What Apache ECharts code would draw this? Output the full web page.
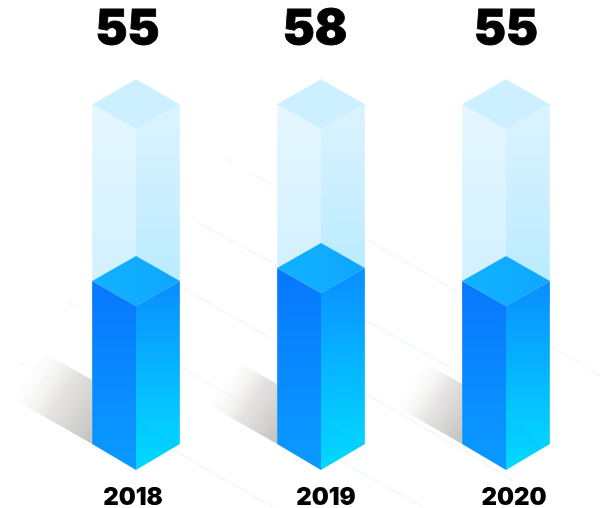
<!DOCTYPE html>
<html><head><meta charset="utf-8">
<style>html,body{margin:0;padding:0;background:#fff}#c{width:600px;height:508px}</style>
<script src="https://cdn.jsdelivr.net/npm/echarts@6/dist/echarts.min.js"></script></head>
<body><div id="c"></div>
<script>
const categories = ['2018', '2019', '2020'];
const values = [55, 58, 55];
const trackValues = [95.8, 95.8, 95.8];
const labelShift = [-8.5, -6, 0];
const yearPad = [[0, 6, 0, 0], [0, 0, 0, 10], [0, 0, 0, 16]];
const shadowTop = [45, 34, 34];
const shadowBottom = [85, 72, 69];
const shadowRise = [64, 60, 60];
const decorLines = [
  [198,223,277,265],[182,288,277,342],[67,302,76,307],[18,362,28,367],[43,375,93,403],
  [182,368,277,423],[173,450,273,507],[223,157,232,162],[250,172,460,293],[173,208,180,212],
  [365,320,460,373],[365,393,513,480],[552,347,600,375],[550,430,558,435],[342,462,423,507]
];
const AXIS_MIN = 17.4, AXIS_MAX = 100, DEPTH = 25, BASE_DEPTH = 26;
const G = echarts.graphic.LinearGradient;
const grad = (a, b) => new G(0, 0, 0, 1, [{offset: 0, color: a}, {offset: 1, color: b}]);

function prism(api, x, yTop, yBase, hw, st) {
  const poly = (points, style) => ({type: 'polygon', shape: {points}, style});
  return [
    poly([[x-hw,yTop],[x,yTop+DEPTH],[x,yBase+BASE_DEPTH],[x-hw,yBase]], {fill: st.left}),
    poly([[x,yTop+DEPTH],[x+hw,yTop],[x+hw,yBase],[x,yBase+BASE_DEPTH]], {fill: st.right}),
    poly([[x-hw,yTop],[x,yTop-DEPTH],[x+hw,yTop],[x,yTop+DEPTH]], {fill: st.top})
  ];
}
const chart = echarts.init(document.getElementById('c'), null, {renderer: 'canvas'});
chart.setOption({
  animation: false,
  backgroundColor: '#fff',
  grid: {left: 43.5, right: 1.5, top: 86, height: 358, outerBoundsMode: 'none'},
  xAxis: {
    type: 'category', data: categories,
    axisLine: {show: false}, axisTick: {show: false},
    axisLabel: {
      margin: 42,
      formatter: (v, i) => '{y' + i + '|' + v + '}',
      rich: Object.fromEntries(yearPad.map((p, i) => ['y' + i, {
        padding: p, fontFamily: 'Inter', fontWeight: 900, fontSize: 24, color: '#000'
      }]))
    }
  },
  yAxis: {type: 'value', min: AXIS_MIN, max: AXIS_MAX, show: false, splitLine: {show: false}},
  graphic: decorLines.map(l => ({
    type: 'line', silent: true, z: 0,
    shape: {x1: l[0], y1: l[1], x2: l[2], y2: l[3]},
    style: {stroke: '#e6f7fe', lineWidth: 1}
  })),
  series: [
    {
      type: 'custom', silent: true, z: 2, data: categories.map((c, i) => [i, AXIS_MIN]),
      renderItem(p, api) {
        const i = api.value(0), c = api.coord([i, AXIS_MIN]);
        const hw = api.size([1, 0])[0] * 0.237, xe = c[0] - hw, yb = c[1];
        return {type: 'polygon', shape: {points: [
          [xe, yb - shadowRise[i]],
          [xe - shadowTop[i], yb - shadowRise[i] - shadowTop[i] * 0.57],
          [xe - shadowBottom[i], yb - shadowBottom[i] * 0.57],
          [xe, yb]
        ]}, style: {fill: new G(1, 0.9, 0.05, 0.35, [
          {offset: 0, color: 'rgba(198,196,192,1)'},
          {offset: 0.5, color: 'rgba(224,223,221,0.85)'},
          {offset: 1, color: 'rgba(255,255,255,0)'}
        ])}};
      }
    },
    {
      type: 'custom', silent: true, z: 3, data: trackValues.map((v, i) => [i, v]),
      renderItem(p, api) {
        const i = api.value(0), t = api.coord([i, api.value(1)]), b = api.coord([i, values[i]]);
        const hw = api.size([1, 0])[0] * 0.237;
        return {type: 'group', children: prism(api, t[0], t[1], b[1], hw, {
          left: grad('rgba(224,245,255,0.85)', 'rgba(204,238,255,0.92)'),
          right: grad('rgba(214,241,255,0.85)', 'rgba(176,233,255,0.95)'),
          top: 'rgba(198,238,255,0.9)'
        })};
      }
    },
    {
      type: 'custom', silent: true, z: 4, data: values.map((v, i) => [i, v]),
      renderItem(p, api) {
        const i = api.value(0), t = api.coord([i, api.value(1)]), b = api.coord([i, AXIS_MIN]);
        const hw = api.size([1, 0])[0] * 0.237, x = t[0], yb = b[1];
        const track = api.coord([i, trackValues[i]]);
        return {type: 'group', children: [
          ...prism(api, x, t[1], yb, hw, {
            left: grad('#0877ff', '#0a9bff'),
            right: grad('#0a8dff', '#02dfff'),
            top: new G(0, 0, 1, 0, [{offset: 0, color: '#12b2ff'}, {offset: 1, color: '#0fa6ff'}])
          }),
          {type: 'polygon', shape: {points: [[x-hw,yb],[x,yb-DEPTH],[x+hw,yb],[x,yb+BASE_DEPTH]]},
            style: {fill: 'rgba(10,130,255,0.06)'}},
          {type: 'text', style: {
            x: x + labelShift[i], y: track[1] - 75, text: String(api.value(1)),
            align: 'center', verticalAlign: 'middle',
            fontFamily: 'Inter', fontWeight: 900, fontSize: 48, fill: '#000',
            stroke: '#000', lineWidth: 0.8
          }}
        ]};
      }
    }
  ]
});
</script></body></html>
